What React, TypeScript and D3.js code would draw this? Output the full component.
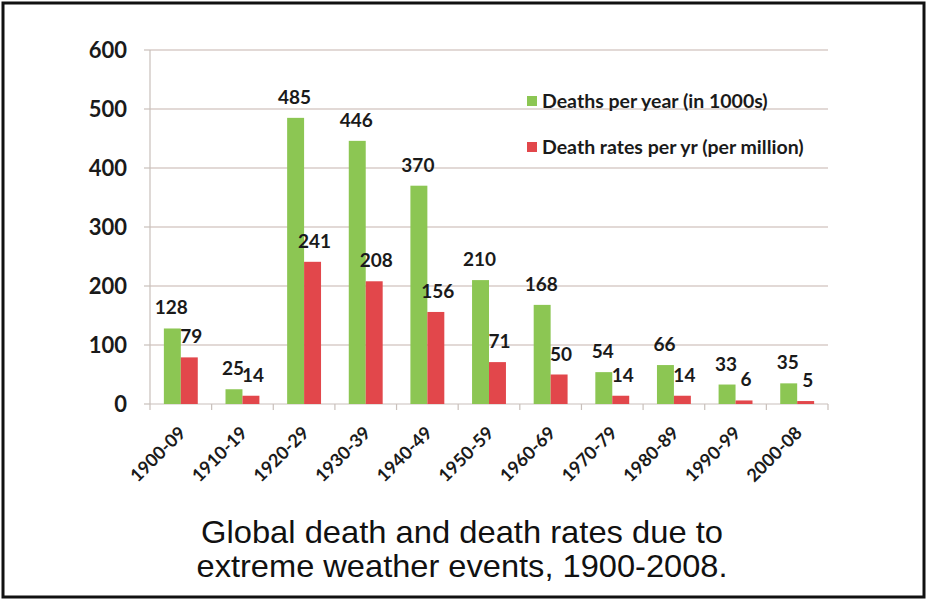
import React from "react";
import * as d3 from "d3";

const decades = [
  "1900-09", "1910-19", "1920-29", "1930-39", "1940-49", "1950-59",
  "1960-69", "1970-79", "1980-89", "1990-99", "2000-08",
];
const deathsPerYear = [128, 25, 485, 446, 370, 210, 168, 54, 66, 33, 35];
const deathRates = [79, 14, 241, 208, 156, 71, 50, 14, 14, 6, 5];
const yTicks = [0, 100, 200, 300, 400, 500, 600];
const seriesNames = ["Deaths per year (in 1000s)", "Death rates per yr (per million)"];

const WIDTH = 927;
const HEIGHT = 603;
const LEFT = 150;
const RIGHT = 828;
const TOP = 50;
const BOTTOM = 404;
const GREEN = "#8cc653";
const RED = "#e2474b";
const FONT = "Lato, 'Open Sans', sans-serif";

const App = () => {
  const x = d3.scaleBand().domain(decades).range([LEFT, RIGHT]).paddingInner(0.45).paddingOuter(0.225);
  const y = d3.scaleLinear().domain([0, 600]).range([BOTTOM, TOP]);
  const sub = d3.scaleBand().domain(["g", "r"]).range([0, x.bandwidth()]);
  const step = (RIGHT - LEFT) / decades.length;

  return (
    <div style={{ position: "absolute", left: 0, top: 0 }}>
      <svg width={WIDTH} height={HEIGHT} style={{ display: "block", background: "#fff" }}>
        <rect x={3} y={3} width={921} height={594} fill="#fff" stroke="#111" strokeWidth={3} />

        {/* grid */}
        {yTicks.map((t) => (
          <g key={t}>
            {t > 0 && (
              <line x1={LEFT} x2={RIGHT} y1={y(t)} y2={y(t)} stroke="#d8cdc8" strokeWidth={1.5} />
            )}
            <line x1={LEFT - 6} x2={LEFT} y1={y(t)} y2={y(t)} stroke="#c9c0bb" strokeWidth={1.2} />
            <text
              x={127}
              y={y(t)}
              dy="0.35em"
              textAnchor="end"
              fontFamily={FONT}
              fontWeight={700}
              fontSize={22}
              fill="#1a1a1a"
            >
              {t}
            </text>
          </g>
        ))}
        <line x1={LEFT} x2={LEFT} y1={TOP} y2={BOTTOM} stroke="#c9c0bb" strokeWidth={1.2} />
        <line x1={LEFT} x2={RIGHT} y1={BOTTOM} y2={BOTTOM} stroke="#c9c0bb" strokeWidth={1.2} />
        {d3.range(decades.length + 1).map((i) => (
          <line
            key={i}
            x1={LEFT + i * step}
            x2={LEFT + i * step}
            y1={BOTTOM}
            y2={BOTTOM + 6}
            stroke="#c9c0bb"
            strokeWidth={1.2}
          />
        ))}

        {/* bars */}
        {decades.map((d, i) => {
          const x0 = x(d) ?? 0;
          const gx = x0 + (sub("g") ?? 0);
          const rx = x0 + (sub("r") ?? 0);
          const bw = sub.bandwidth();
          return (
            <g key={d}>
              <rect x={gx} y={y(deathsPerYear[i])} width={bw} height={BOTTOM - y(deathsPerYear[i])} fill={GREEN} />
              <rect x={rx} y={y(deathRates[i])} width={bw} height={BOTTOM - y(deathRates[i])} fill={RED} />
              <text
                x={gx + bw / 2 - 1}
                y={y(deathsPerYear[i]) - 14}
                textAnchor="middle"
                fontFamily={FONT}
                fontWeight={700}
                fontSize={19}
                fill="#1a1a1a"
              >
                {deathsPerYear[i]}
              </text>
              <text
                x={rx + bw / 2 + 2}
                y={y(deathRates[i]) - 14}
                textAnchor="middle"
                fontFamily={FONT}
                fontWeight={700}
                fontSize={19}
                fill="#1a1a1a"
              >
                {deathRates[i]}
              </text>
              <text
                transform={`translate(${x0 + x.bandwidth() / 2 + 6},${BOTTOM + 30}) rotate(-45)`}
                textAnchor="end"
                fontFamily={FONT}
                fontWeight={700}
                fontSize={18}
                fill="#1a1a1a"
              >
                {d}
              </text>
            </g>
          );
        })}

        {/* legend */}
        {seriesNames.map((name, i) => (
          <g key={name} transform={`translate(527,${101 + i * 46})`}>
            <rect x={0} y={-5} width={10} height={10} fill={i === 0 ? GREEN : RED} />
            <text
              x={15}
              dy="0.35em"
              fontFamily={FONT}
              fontWeight={700}
              fontSize={19.5}
              fill="#1a1a1a"
            >
              {name}
            </text>
          </g>
        ))}

        {/* caption */}
        <text
          x={462}
          y={543}
          textAnchor="middle"
          fontFamily="'Liberation Sans', Arial, sans-serif"
          fontSize={32}
          textLength={522}
          lengthAdjust="spacingAndGlyphs"
          fill="#111"
        >
          Global death and death rates due to
        </text>
        <text
          x={462}
          y={577}
          textAnchor="middle"
          fontFamily="'Liberation Sans', Arial, sans-serif"
          fontSize={32}
          textLength={531}
          lengthAdjust="spacingAndGlyphs"
          fill="#111"
        >
          extreme weather events, 1900-2008.
        </text>
      </svg>
    </div>
  );
};

export default App;
